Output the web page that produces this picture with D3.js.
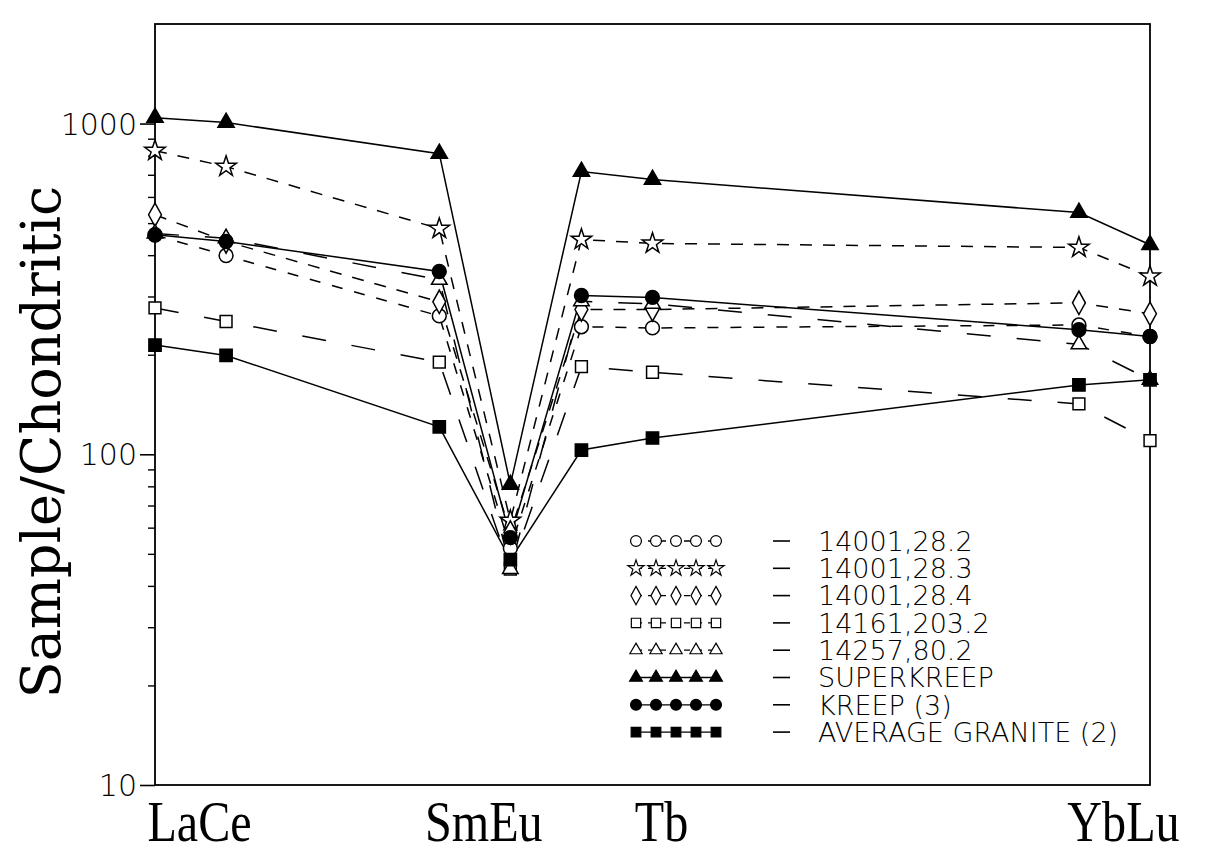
<!DOCTYPE html>
<html>
<head>
<meta charset="utf-8">
<script src="https://cdn.jsdelivr.net/npm/d3@7"></script>
<style>
  html, body { margin: 0; padding: 0; background: #fff; }
  svg { display: block; }
</style>
</head>
<body>
<svg id="chart" width="1226" height="854"></svg>
<script>
// Rare-earth elements plotted, and their slot along the horizontal axis
const elements = ["La", "Ce", "Sm", "Eu", "Gd", "Tb", "Yb", "Lu"];
const elementSlot = [0, 1, 4, 5, 6, 7, 13, 14];

// Axis labels printed under the frame, grouped by element pairs
const axisLabels = ["LaCe", "SmEu", "Tb", "YbLu"];
const axisLabelElements = [["La", "Ce"], ["Sm", "Eu"], ["Tb"], ["Yb", "Lu"]];

// Y axis ticks
const majorTicks = [10, 100, 1000];
const minorTicks = [20, 30, 40, 50, 60, 70, 80, 90, 200, 300, 400, 500, 600, 700, 800, 900];

// Chondrite-normalised abundances, one value per element above
const s14001_282 = [460, 399, 262, 52, 243, 241, 246, 227];
const s14001_283 = [828, 741, 481, 63, 446, 434, 422, 345];
const s14001_284 = [530, 440, 289, 58, 274, 274, 287, 266];
const s14161_2032 = [277, 252, 190, 45, 184, 177, 142, 110];
const s14257_802 = [465, 450, 337, 45, 290, 285, 215, 168];
const superKreep = [1042, 1007, 811, 81, 716, 677, 538, 430];
const kreep3 = [461, 440, 357, 56, 302, 298, 238, 227];
const avgGranite2 = [214, 199, 121, 48, 103, 112, 162, 168];

const seriesNames = ["14001,28.2", "14001,28.3", "14001,28.4", "14161,203.2",
  "14257,80.2", "SUPERKREEP", "KREEP (3)", "AVERAGE GRANITE (2)"];
const seriesValues = [s14001_282, s14001_283, s14001_284, s14161_2032,
  s14257_802, superKreep, kreep3, avgGranite2];

// Tall open diamond used for 14001,28.4
const diamondTall = {
  draw(ctx, size) {
    const h = Math.sqrt(size / 1.1), w = h * 0.55;
    ctx.moveTo(0, -h); ctx.lineTo(w, 0); ctx.lineTo(0, h); ctx.lineTo(-w, 0); ctx.closePath();
  }
};

// Plot styling per series: marker shape, fill, dash pattern
const styles = [
  { shape: d3.symbolCircle, size: 150, filled: false, dash: "11,12" },
  { shape: d3.symbolStar, size: 130, filled: false, dash: "12,11" },
  { shape: diamondTall, size: 150, filled: false, dash: "12,11" },
  { shape: d3.symbolSquare, size: 140, filled: false, dash: "24,26" },
  { shape: d3.symbolTriangle, size: 105, filled: false, dash: "24,26" },
  { shape: d3.symbolTriangle, size: 115, filled: true, dash: null },
  { shape: d3.symbolCircle, size: 150, filled: true, dash: null },
  { shape: d3.symbolSquare, size: 150, filled: true, dash: null }
];

const svg = d3.select("#chart");
const plot = { left: 155, right: 1150, top: 24, bottom: 785 };

const x = d3.scaleLinear().domain([0, 14]).range([plot.left, plot.right]);
const y = d3.scaleLog().domain([10, 2000]).range([plot.bottom, plot.top]);
const slotOf = Object.fromEntries(elements.map((e, i) => [e, elementSlot[i]]));

// Frame
svg.append("rect")
  .attr("x", plot.left).attr("y", plot.top)
  .attr("width", plot.right - plot.left).attr("height", plot.bottom - plot.top)
  .attr("fill", "none").attr("stroke", "#000").attr("stroke-width", 1.8);

// Y axis: major ticks with labels, minor ticks without
const yAxis = svg.append("g").attr("transform", `translate(${plot.left},0)`)
  .call(d3.axisLeft(y).tickValues(majorTicks).tickFormat(d3.format("d")).tickSize(15).tickPadding(3));
yAxis.select(".domain").remove();
yAxis.selectAll("line").attr("stroke-width", 1.6);
yAxis.selectAll("text")
  .attr("font-family", "DejaVu Sans").attr("font-weight", 200)
  .attr("font-size", 30).attr("fill", "#000").attr("dy", "0.35em");

const yMinor = svg.append("g").attr("transform", `translate(${plot.left},0)`)
  .call(d3.axisLeft(y).tickValues(minorTicks).tickFormat("").tickSize(7));
yMinor.select(".domain").remove();
yMinor.selectAll("line").attr("stroke-width", 1.4);

// Y title
svg.append("text")
  .attr("transform", "translate(60,442) rotate(-90)")
  .attr("text-anchor", "middle")
  .attr("font-family", "DejaVu Serif").attr("font-size", 54)
  .attr("fill", "#000")
  .text("Sample/Chondritic");

// Element labels under the axis (narrow serif lettering)
svg.selectAll("text.elab").data(axisLabels).join("text")
  .attr("class", "elab")
  .attr("transform", (d, i) =>
    `translate(${d3.mean(axisLabelElements[i], e => x(slotOf[e])) + 9},841) scale(0.86,1)`)
  .attr("text-anchor", "middle")
  .attr("font-family", "Liberation Serif").attr("font-size", 56)
  .attr("fill", "#000")
  .text(d => d);

// Series lines
const line = d3.line().x((d, i) => x(elementSlot[i])).y(d => y(d));
const lines = svg.append("g");
seriesValues.forEach((vals, k) => {
  lines.append("path")
    .datum(vals)
    .attr("d", line)
    .attr("fill", "none")
    .attr("stroke", "#000")
    .attr("stroke-width", 1.5)
    .attr("stroke-dasharray", styles[k].dash);
});

// Series markers
const marks = svg.append("g");
seriesValues.forEach((vals, k) => {
  const st = styles[k];
  marks.append("g").selectAll("path").data(vals).join("path")
    .attr("transform", (d, i) => `translate(${x(elementSlot[i])},${y(d)})`)
    .attr("d", d3.symbol(st.shape, st.size))
    .attr("fill", st.filled ? "#000" : "#fff")
    .attr("stroke", "#000")
    .attr("stroke-width", 1.5);
});

// Legend
const legend = svg.append("g").attr("transform", "translate(636,541)");
const rowGap = 27.3;
const sampleX = d3.range(5).map(i => i * 20);
seriesNames.forEach((name, k) => {
  const st = styles[k];
  const row = legend.append("g").attr("transform", `translate(0,${k * rowGap})`);
  row.append("line")
    .attr("x1", sampleX[0]).attr("x2", sampleX[4])
    .attr("stroke", "#000").attr("stroke-width", 1.3)
    .attr("stroke-dasharray", st.dash ? "6,6" : null);
  row.selectAll("path").data(sampleX).join("path")
    .attr("transform", d => `translate(${d},0)`)
    .attr("d", d3.symbol(st.shape, st.size * 0.62))
    .attr("fill", st.filled ? "#000" : "#fff")
    .attr("stroke", "#000").attr("stroke-width", 1.2);
  row.append("line")
    .attr("x1", 137).attr("x2", 154)
    .attr("stroke", "#000").attr("stroke-width", 1.6);
  row.append("text")
    .attr("x", 182).attr("dy", "0.36em")
    .attr("font-family", "DejaVu Sans").attr("font-weight", 200)
    .attr("font-size", 27).attr("fill", "#000")
    .text(name);
});
</script>
</body>
</html>
